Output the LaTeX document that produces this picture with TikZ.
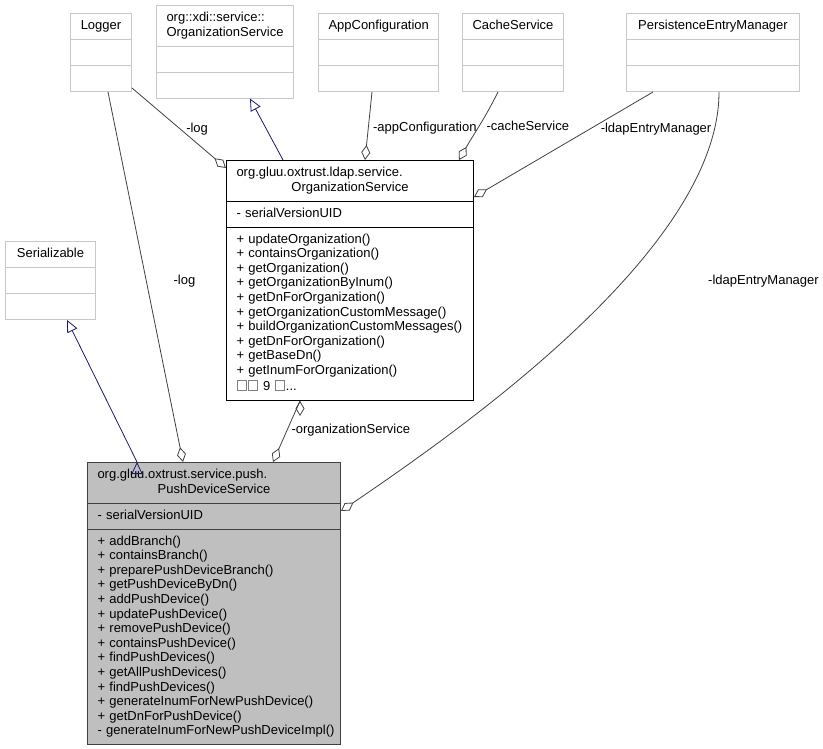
\documentclass[tikz,border=0pt]{standalone}
\usepackage{fontspec}
\setmainfont{Liberation Sans}
\usetikzlibrary{arrows.meta,shapes.multipart,positioning}
\definecolor{edgegray}{HTML}{404040}
\definecolor{boxgray}{HTML}{BFBFBF}
\definecolor{lightframe}{HTML}{C8C8C8}
\definecolor{inhblue}{HTML}{191970}
\newcommand{\mline}[1]{\hbox to\hsize{\strut#1\hfil}\par}
\newcommand{\mtitle}[1]{\hbox to\hsize{\hfil\strut#1\hfil}\par}
\newcommand{\tofu}{{\color{gray}\fboxsep=0pt\fboxrule=.6pt\fbox{\hbox to 9pt{\vrule height 10pt width 0pt\hfil}}}\kern1pt}
\tikzset{
  umlfont/.style={font=\fontsize{13}{14.6}\selectfont},
  cls/.style={umlfont, rectangle split, rectangle split parts=3, anchor=north west,
    inner xsep=10pt, inner ysep=5.2pt, line width=1pt, draw=lightframe},
  agg/.style={draw=edgegray, line width=.8pt, -{Diamond[open,length=15pt,width=9pt]}},
  impl/.style={draw=inhblue, line width=.8pt, -{Triangle[open,length=12pt,width=11pt]}},
  lbl/.style={umlfont, anchor=west, inner sep=0pt}
}
\begin{document}
\begin{tikzpicture}[x=1pt,y=-1pt]
  \useasboundingbox (0,0) rectangle (823,749);
  \node[cls, text width=41pt] (logger) at (70,13)
    {\mtitle{Logger}\nodepart{second}\mline{}\nodepart{third}\mline{}};
  \node[cls, text width=117pt] (xdi) at (156,5)
    {\mline{org::xdi::service::}\mtitle{OrganizationService}\nodepart{second}\mline{}\nodepart{third}\mline{}};
  \node[cls, text width=100pt] (appconf) at (318,13)
    {\mtitle{AppConfiguration}\nodepart{second}\mline{}\nodepart{third}\mline{}};
  \node[cls, text width=81pt] (cache) at (462,13)
    {\mtitle{CacheService}\nodepart{second}\mline{}\nodepart{third}\mline{}};
  \node[cls, text width=153pt] (pem) at (626,13)
    {\mtitle{PersistenceEntryManager}\nodepart{second}\mline{}\nodepart{third}\mline{}};
  \node[cls, text width=70pt] (ser) at (5,241)
    {\mtitle{Serializable}\nodepart{second}\mline{}\nodepart{third}\mline{}};
  \node[cls, text width=227pt, draw=black] (ldapsvc) at (226,160)
    {\mline{org.gluu.oxtrust.ldap.service.}\mtitle{OrganizationService}
     \nodepart{second}\mline{- serialVersionUID}
     \nodepart{third}\mline{+ updateOrganization()}\mline{+ containsOrganization()}
     \mline{+ getOrganization()}\mline{+ getOrganizationByInum()}
     \mline{+ getDnForOrganization()}\mline{+ getOrganizationCustomMessage()}
     \mline{+ buildOrganizationCustomMessages()}\mline{+ getDnForOrganization()}
     \mline{+ getBaseDn()}\mline{+ getInumForOrganization()}
     \mline{\tofu\tofu{} 9 \tofu...}};
  \node[cls, text width=233pt, draw=edgegray, fill=boxgray] (push) at (87,462)
    {\mline{org.gluu.oxtrust.service.push.}\mtitle{PushDeviceService}
     \nodepart{second}\mline{- serialVersionUID}
     \nodepart{third}\mline{+ addBranch()}\mline{+ containsBranch()}
     \mline{+ preparePushDeviceBranch()}\mline{+ getPushDeviceByDn()}
     \mline{+ addPushDevice()}\mline{+ updatePushDevice()}
     \mline{+ removePushDevice()}\mline{+ containsPushDevice()}
     \mline{+ findPushDevices()}\mline{+ getAllPushDevices()}
     \mline{+ findPushDevices()}\mline{+ generateInumForNewPushDevice()}
     \mline{+ getDnForPushDevice()}\mline{- generateInumForNewPushDeviceImpl()}};
  \path[impl]
    ([xshift=57pt]ldapsvc.north west) edge ([xshift=94pt]xdi.south west)
    ([xshift=50pt]push.north west) edge ([xshift=62pt]ser.south west);
  \path[agg]
    ([yshift=4pt]logger.south east) edge node[lbl, pos=.52, xshift=5pt] (loglbl) {-log} ([yshift=-8pt]ldapsvc.north west)
    ([xshift=54pt]appconf.south west) edge node[lbl, pos=.535, xshift=4.5pt] (applbl) {-appConfiguration} ([xshift=139pt]ldapsvc.north west)
    ([xshift=27pt]pem.south west) edge node[lbl, pos=.35, xshift=10pt] (pemlbl) {-ldapEntryManager} ([yshift=-37pt]ldapsvc.north east)
    ([xshift=38pt]logger.south west) edge node[lbl, pos=.51, xshift=27pt] (pushloglbl) {-log} ([xshift=96pt]push.north west)
    ([xshift=74pt]ldapsvc.south west) edge node[lbl, pos=.477, xshift=4pt] (orglbl) {-organizationService} ([xshift=186pt]push.north west);
  \draw[agg] ([xshift=36pt]cache.south west) .. controls +(-14,28) and +(16,-28) .. ([xshift=233pt]ldapsvc.north west)
    node[lbl, pos=.5, xshift=7pt] (cachelbl) {-cacheService};
  \draw[agg] ([xshift=93pt]pem.south west) .. controls +(0,155) and +(128,-87) .. ([yshift=-49pt]push.north east)
    node[lbl, pos=.4, xshift=85pt] (pushpemlbl) {-ldapEntryManager};
\end{tikzpicture}
\end{document}
